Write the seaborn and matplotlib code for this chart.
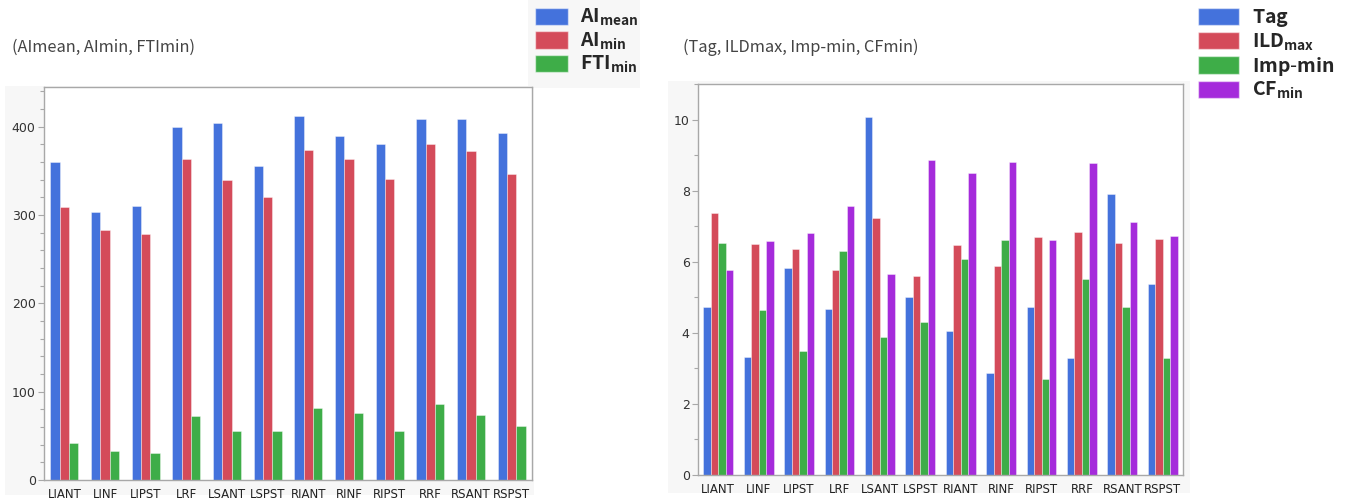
import pandas as pd
import seaborn as sns
import matplotlib.pyplot as plt
from matplotlib.patches import Patch, Rectangle
from matplotlib.ticker import MultipleLocator

SITES = ['LIANT', 'LINF', 'LIPST', 'LRF', 'LSANT', 'LSPST',
         'RIANT', 'RINF', 'RIPST', 'RRF', 'RSANT', 'RSPST']

AI_MEAN = [360, 304, 310, 400, 404, 356, 412, 389, 381, 409, 409, 393]
AI_MIN = [309, 283, 278, 363, 340, 321, 374, 364, 341, 380, 372, 346]
FTI_MIN = [42, 33, 31, 73, 56, 56, 81, 76, 56, 86, 74, 61]

TAG = [4.73, 3.33, 5.81, 4.68, 10.07, 5.00, 4.05, 2.88, 4.73, 3.30, 7.91, 5.38]
ILD_MAX = [7.38, 6.50, 6.36, 5.76, 7.22, 5.61, 6.47, 5.89, 6.70, 6.84, 6.53, 6.64]
IMP_MIN = [6.53, 4.64, 3.50, 6.29, 3.89, 4.31, 6.09, 6.62, 2.69, 5.51, 4.72, 3.29]
CF_MIN = [5.77, 6.58, 6.81, 7.58, 5.66, 8.87, 8.50, 8.80, 6.62, 8.78, 7.12, 6.71]

LEFT_LABELS = [r'$\mathbf{AI}_{\mathbf{mean}}$', r'$\mathbf{AI}_{\mathbf{min}}$',
               r'$\mathbf{FTI}_{\mathbf{min}}$']
RIGHT_LABELS = [r'$\mathbf{Tag}$', r'$\mathbf{ILD}_{\mathbf{max}}$',
                r'$\mathbf{Imp}$-$\mathbf{min}$', r'$\mathbf{CF}_{\mathbf{min}}$']

BLUE, RED, GREEN, PURPLE = '#4472dc', '#d44b5a', '#3ead48', '#a52bdb'
W, H = 1351, 498

sns.set_style('white')
plt.rcParams['font.family'] = ['DejaVu Sans']
plt.rcParams['mathtext.fontset'] = 'custom'
plt.rcParams['mathtext.rm'] = 'Noto Sans CJK JP'
plt.rcParams['mathtext.bf'] = 'Noto Sans CJK JP:bold'


def px_rect(x0, y0, x1, y1):
    # pixel box (top-left origin) -> figure fraction rect
    return [x0 / W, 1 - y1 / H, (x1 - x0) / W, (y1 - y0) / H]


def panel(fig, x0, y0, x1, y1, color='#f7f7f7'):
    l, b, w, h = px_rect(x0, y0, x1, y1)
    fig.patches.append(Rectangle((l, b), w, h, transform=fig.transFigure,
                                 facecolor=color, edgecolor='none', zorder=-10))


def draw_bars(ax, series, names, colors, width, ylim, major, minor):
    df = pd.DataFrame({'site': SITES * len(series),
                       'value': sum(series, []),
                       'metric': sum([[n] * len(SITES) for n in names], [])})
    sns.barplot(data=df, x='site', y='value', hue='metric', palette=colors,
                width=width, ax=ax, legend=False, errorbar=None,
                edgecolor=(1, 1, 1, 0.45), linewidth=0.6, saturation=1)
    ax.set_xlim(-0.5, len(SITES) - 0.5)
    ax.set_ylim(*ylim)
    ax.yaxis.set_major_locator(MultipleLocator(major))
    ax.yaxis.set_minor_locator(MultipleLocator(minor))
    ax.set_xlabel('')
    ax.set_ylabel('')
    ax.set_facecolor('white')
    for s in ax.spines.values():
        s.set_visible(True)
        s.set_color('#a8a8a8')
        s.set_linewidth(1)
    ax.tick_params(axis='y', which='major', left=True, length=4, width=0.8,
                   color='#a8a8a8', labelsize=9, labelcolor='#333333', pad=2)
    ax.tick_params(axis='y', which='minor', left=True, length=3, width=0.8,
                   color='#a8a8a8')
    ax.tick_params(axis='x', bottom=False, labelsize=8.5, labelcolor='#222222', pad=2)
    for lab in ax.get_xticklabels() + ax.get_yticklabels():
        lab.set_family('DejaVu Sans')


fig = plt.figure(figsize=(W / 100, H / 100), dpi=100)
fig.patch.set_facecolor('white')

panel(fig, 5, 86, 534, 495)
panel(fig, 668, 81, 1190, 493)
panel(fig, 528, 0, 640, 88)

ax1 = fig.add_axes(px_rect(44, 87, 532, 480))
draw_bars(ax1, [AI_MEAN, AI_MIN, FTI_MIN], ['AImean', 'AImin', 'FTImin'],
          [BLUE, RED, GREEN], 0.69, (0, 445), 100, 20)

ax2 = fig.add_axes(px_rect(698, 84, 1183, 475))
draw_bars(ax2, [TAG, ILD_MAX, IMP_MIN, CF_MIN], ['Tag', 'ILDmax', 'Imp-min', 'CFmin'],
          [BLUE, RED, GREEN, PURPLE], 0.74, (0, 11), 2, 1)

fig.text(12 / W, 1 - 47 / H, '(AImean, AImin, FTImin)', fontsize=11.8,
         color='#444444', va='center', ha='left', family=['Noto Sans CJK JP', 'DejaVu Sans'])
fig.text(683 / W, 1 - 47 / H, '(Tag, ILDmax, Imp-min, CFmin)', fontsize=11.8,
         color='#444444', va='center', ha='left', family=['Noto Sans CJK JP', 'DejaVu Sans'])

legend_kw = dict(loc='upper left', frameon=False, fontsize=14, borderpad=0.2,
                 labelspacing=0.12, borderaxespad=0)
fig.legend([Patch(facecolor=c, edgecolor=(1, 1, 1, 0.5)) for c in [BLUE, RED, GREEN]],
           LEFT_LABELS, bbox_to_anchor=(531 / W, 1 - 3 / H),
           handlelength=1.7, handleheight=1.0, handletextpad=0.6, **legend_kw)
fig.legend([Patch(facecolor=c, edgecolor=(1, 1, 1, 0.5)) for c in [BLUE, RED, GREEN, PURPLE]],
           RIGHT_LABELS, bbox_to_anchor=(1194 / W, 1 - 3 / H),
           handlelength=2.1, handleheight=1.0, handletextpad=0.7, **legend_kw)

plt.savefig('out.png', dpi=100)
